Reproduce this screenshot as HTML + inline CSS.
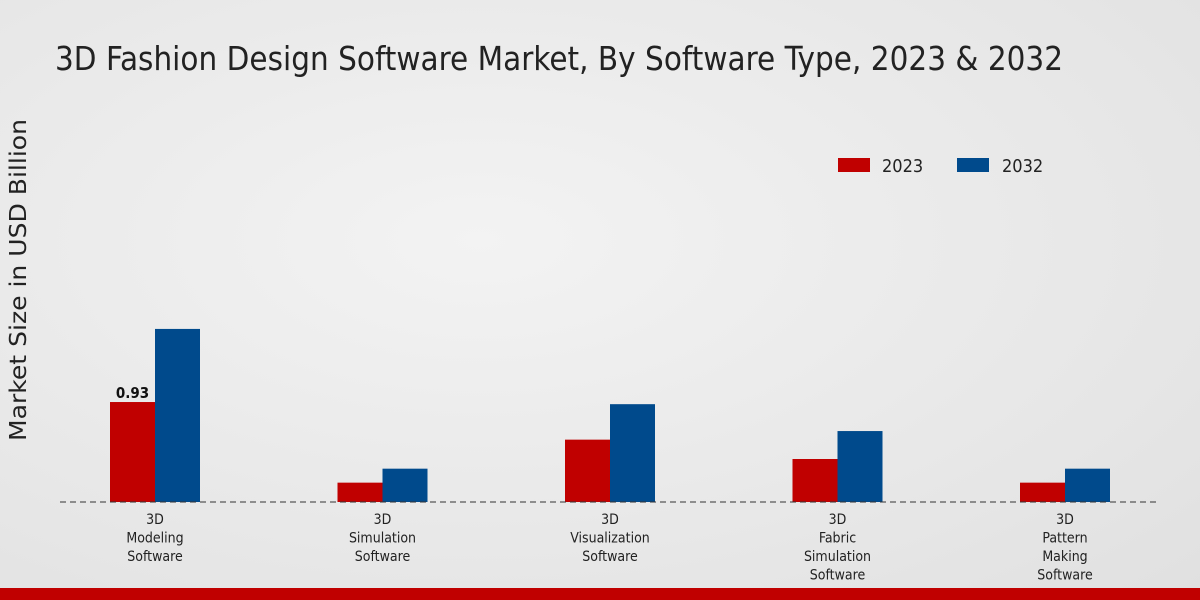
<!DOCTYPE html>
<html><head><meta charset="utf-8"><style>
html,body{margin:0;padding:0}
body{width:1200px;height:600px;overflow:hidden;background:radial-gradient(ellipse at 40% 40%,#f3f3f3 0%,#e6e6e6 70%,#e0e0e0 100%);font-family:"DejaVu Sans Condensed","Liberation Sans Narrow","Liberation Sans",sans-serif;position:relative}
svg{position:absolute;left:0;top:0}
</style></head><body>
<svg width="1200" height="600">
<text x="55" y="70" font-size="32.8" textLength="1008" fill="#222" style="font-family:'DejaVu Sans Condensed','Liberation Sans Narrow',sans-serif">3D Fashion Design Software Market, By Software Type, 2023 &amp; 2032</text>
<text transform="translate(26,280) rotate(-90)" text-anchor="middle" font-size="23" textLength="322" lengthAdjust="spacingAndGlyphs" fill="#222" style="font-family:'DejaVu Sans','Liberation Sans',sans-serif">Market Size in USD Billion</text>
<g>
<rect x="838" y="158" width="32" height="14" fill="#c00000"/>
<text x="882" y="172" font-size="18" fill="#222">2023</text>
<rect x="957" y="158" width="32" height="14" fill="#004a8c"/>
<text x="1002" y="172" font-size="18" fill="#222">2032</text>
</g>
<g id="bars"></g>
<line x1="60" y1="502" x2="1160" y2="502" stroke="#333" stroke-dasharray="6,4"/>
<g id="labels"></g>
<rect x="0" y="588" width="1200" height="12" fill="#c00000"/>
</svg>
<script>
const categories=[["3D","Modeling","Software"],["3D","Simulation","Software"],["3D","Visualization","Software"],["3D","Fabric","Simulation","Software"],["3D","Pattern","Making","Software"]];
const values2023=[0.93,0.18,0.58,0.40,0.18];
const values2032=[1.61,0.31,0.91,0.66,0.31];
const shownLabels=["0.93",null,null,null,null];
const ns="http://www.w3.org/2000/svg";
const baseY=502,scale=107.5,x0=155,step=227.5,bw=45;
const yPos=v=>baseY-v*scale;
const xC=i=>x0+i*step;
const bars=document.getElementById('bars'),labels=document.getElementById('labels');
function mk(t,a){const e=document.createElementNS(ns,t);for(const k in a)e.setAttribute(k,a[k]);return e;}
categories.forEach((c,i)=>{
 const r1=mk('rect',{x:xC(i)-bw,y:yPos(values2023[i]),width:bw,height:values2023[i]*scale,fill:'#c00000'});
 
 
 bars.appendChild(r1);
 const r2=mk('rect',{x:xC(i),y:yPos(values2032[i]),width:bw,height:values2032[i]*scale,fill:'#004a8c'});
 
 
 bars.appendChild(r2);
 if(shownLabels[i]){
  const t=mk('text',{x:xC(i)-bw/2,y:yPos(values2023[i])-4,'text-anchor':'middle','font-size':'15','font-weight':'bold',fill:'#111'});
  t.textContent=shownLabels[i];
  
  
  bars.appendChild(t);
 }
 c.forEach((line,j)=>{
  const t=mk('text',{x:xC(i),y:524+j*18.5,'text-anchor':'middle','font-size':'14',fill:'#222'});
  t.textContent=line;
  
  
  labels.appendChild(t);
 });
});
</script>
</body></html>
